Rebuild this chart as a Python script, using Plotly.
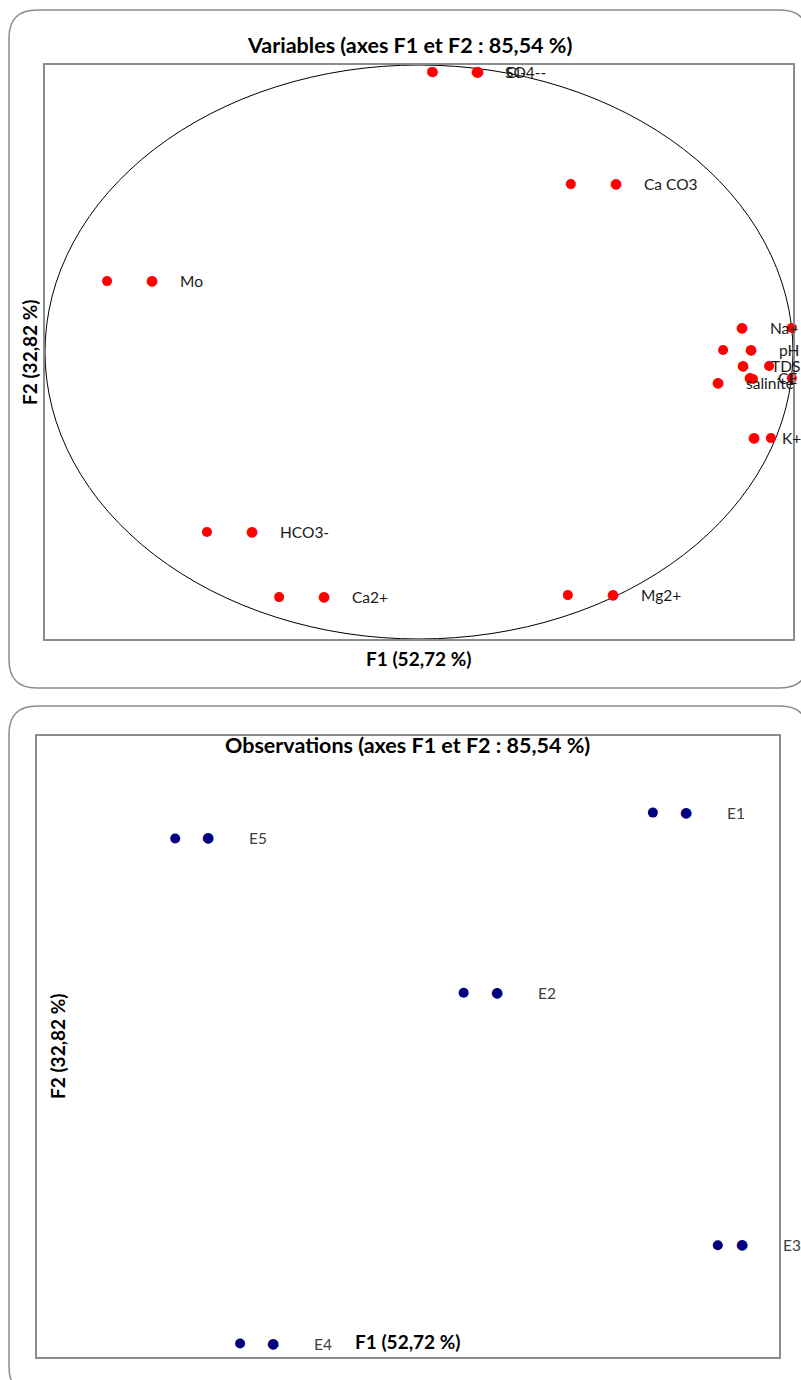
import plotly.graph_objects as go

W, H = 801, 1380

# ---------------- Data ----------------
# Variables (correlation circle, F1 / F2)
var_names = ["Mo", "HCO3-", "Ca2+", "Mg2+", "Ca CO3", "SO4--", "Cl-",
             "Na+", "pH", "TDS", "CE", "salinité", "K+"]
var_f1 = [-0.834, -0.567, -0.374, 0.398, 0.406, 0.035, 0.037,
          0.997, 0.813, 0.936, 0.997, 0.893, 0.941]
var_f2 = [0.247, -0.627, -0.854, -0.847, 0.585, 0.976, 0.975,
          0.084, 0.007, -0.049, -0.091, -0.094, -0.300]

# Observations (factor scores, F1 / F2)
obs_names = ["E1", "E2", "E3", "E4", "E5"]
obs_f1 = [2.14, 0.10, 2.84, -2.31, -3.01]
obs_f2 = [2.26, 0.52, -1.92, -2.87, 2.01]

# ---------------- Styling helpers ----------------
FONT = "Lato, 'Open Sans', sans-serif"
RED = "#FF0000"
NAVY = "#000080"
FRAME = "#8c8c8c"

# label key (legend-key dot) horizontal offsets in px (labels pushed inside chart area)
var_key_dx = {"Na+": -50, "pH": 28, "TDS": -26, "CE": -42, "salinité": -35, "K+": -17}
var_key_dy = {"salinité": -4}
obs_key_dx = {"E3": 24}


def px(x):
    return x / W


def py(y):
    return 1 - y / H


def rrect(x0, y0, x1, y1, r):
    pts = [
        ("M", [(x0 + r, y0)]), ("L", [(x1 - r, y0)]), ("Q", [(x1, y0), (x1, y0 + r)]),
        ("L", [(x1, y1 - r)]), ("Q", [(x1, y1), (x1 - r, y1)]), ("L", [(x0 + r, y1)]),
        ("Q", [(x0, y1), (x0, y1 - r)]), ("L", [(x0, y0 + r)]), ("Q", [(x0, y0), (x0 + r, y0)]),
    ]
    s = ""
    for cmd, coords in pts:
        s += cmd + " " + " ".join(f"{px(a):.5f},{py(b):.5f}" for a, b in coords) + " "
    return s + "Z"


fig = go.Figure()

fig.add_trace(go.Scatter(
    x=var_f1, y=var_f2, mode="markers", xaxis="x", yaxis="y",
    marker=dict(color=RED, size=10), cliponaxis=False, hoverinfo="text", text=var_names,
    showlegend=False,
))
fig.add_trace(go.Scatter(
    x=obs_f1, y=obs_f2, mode="markers", xaxis="x2", yaxis="y2",
    marker=dict(color=NAVY, size=10), cliponaxis=False, hoverinfo="text", text=obs_names,
    showlegend=False,
))

annotations = []
# variable labels with legend-key dots
for n, x, y in zip(var_names, var_f1, var_f2):
    dx = var_key_dx.get(n, 45)
    dy = var_key_dy.get(n, 0)
    annotations.append(dict(x=x, y=y, xref="x", yref="y", text="●", showarrow=False,
                            xanchor="center", yanchor="middle", xshift=dx, yshift=dy + 1,
                            font=dict(family="DejaVu Sans", size=14, color=RED)))
    annotations.append(dict(x=x, y=y, xref="x", yref="y", text=n, showarrow=False,
                            xanchor="left", yanchor="middle", xshift=dx + 26, yshift=dy,
                            font=dict(family=FONT, size=15.5, color="#1a1a1a")))
# observation labels with legend-key dots
for n, x, y in zip(obs_names, obs_f1, obs_f2):
    dx = obs_key_dx.get(n, 33)
    annotations.append(dict(x=x, y=y, xref="x2", yref="y2", text="●", showarrow=False,
                            xanchor="center", yanchor="middle", xshift=dx, yshift=1,
                            font=dict(family="DejaVu Sans", size=14, color=NAVY)))
    annotations.append(dict(x=x, y=y, xref="x2", yref="y2", text=n, showarrow=False,
                            xanchor="left", yanchor="middle", xshift=dx + 39,
                            font=dict(family=FONT, size=15.5, color="#404040")))


def title(x, y, text, size, angle=0):
    return dict(x=px(x), y=py(y), xref="paper", yref="paper", showarrow=False,
                xanchor="center", yanchor="middle", textangle=angle,
                text=f"<b>{text}</b>", font=dict(family=FONT, size=size, color="black"))


annotations += [
    title(409, 45, "Variables (axes F1 et F2 : 85,54 %)", 21.5),
    title(419, 659, "F1 (52,72 %)", 19),
    title(30, 352, "F2 (32,82 %)", 19, -90),
    title(407, 745, "Observations (axes F1 et F2 : 85,54 %)", 21.5),
    title(408, 1341, "F1 (52,72 %)", 19),
    title(57, 1046, "F2 (32,82 %)", 19, -90),
]

shapes = [
    dict(type="path", xref="paper", yref="paper", path=rrect(9, 10, 808, 688, 28),
         line=dict(color=FRAME, width=1.5), layer="below"),
    dict(type="path", xref="paper", yref="paper", path=rrect(9, 706, 808, 1395, 28),
         line=dict(color=FRAME, width=1.5), layer="below"),
    dict(type="circle", xref="x", yref="y", x0=-1, x1=1, y0=-1, y1=1,
         line=dict(color="black", width=1), layer="below"),
]

axis_style = dict(showline=True, mirror=True, linecolor=FRAME, linewidth=2,
                  showgrid=False, zeroline=False, showticklabels=False, ticks="")

fig.update_layout(
    width=W, height=H, autosize=False,
    margin=dict(l=0, r=0, t=0, b=0),
    paper_bgcolor="white", plot_bgcolor="rgba(0,0,0,0)",
    xaxis=dict(domain=[px(45), px(793)], range=[-1, 1], anchor="y", **axis_style),
    yaxis=dict(domain=[py(639), py(65)], range=[-1, 1], anchor="x", **axis_style),
    xaxis2=dict(domain=[px(37), px(779)], range=[-4.5, 3.5], anchor="y2", **axis_style),
    yaxis2=dict(domain=[py(1357), py(736)], range=[-3, 3], anchor="x2", **axis_style),
    annotations=annotations,
    shapes=shapes,
    showlegend=False,
)

fig.write_html("out.html", config={"displayModeBar": False},
               post_script="document.body.style.margin='0px';document.body.style.overflow='hidden';")
